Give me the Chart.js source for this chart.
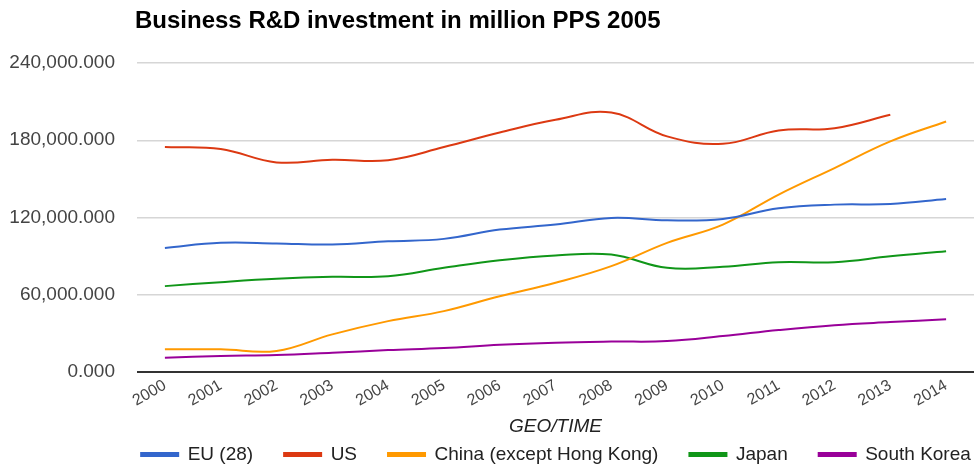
<!DOCTYPE html>
<html>
<head>
<meta charset="utf-8">
<script src="https://cdn.jsdelivr.net/npm/chart.js@4"></script>
<style>
  html, body { margin: 0; padding: 0; background: #fff; }
  #wrap { width: 974px; height: 467px; }
</style>
</head>
<body>
<div id="wrap"><canvas id="rdChart" width="974" height="467"></canvas></div>
<script>
// values (million PPS 2005)
const years = ['2000', '2001', '2002', '2003', '2004', '2005', '2006', '2007',
               '2008', '2009', '2010', '2011', '2012', '2013', '2014'];
const euValues = [96400, 100300, 99800, 99000, 101500, 103400, 110600, 114500,
                  119700, 117800, 118900, 127100, 130000, 130500, 134400];
const usValues = [174700, 173200, 162800, 164900, 164500, 174700, 186000, 195900,
                  201500, 183000, 177300, 187600, 189400, 199800, null];
const chinaValues = [17600, 17600, 16300, 29200, 39500, 47300, 58900, 69300,
                     82200, 100300, 114500, 137800, 158400, 179100, 194600];
const japanValues = [66700, 69800, 72400, 73900, 74400, 80900, 86800, 90500,
                     91200, 80900, 81700, 85300, 85300, 89900, 93800];
const koreaValues = [11100, 12400, 13200, 15000, 17000, 18600, 21200, 22800,
                     23600, 24000, 27900, 32600, 36400, 38800, 40900];
const yTicks = [0, 60000, 120000, 180000, 240000];

const seriesNames = ['EU (28)', 'US', 'China (except Hong Kong)', 'Japan', 'South Korea'];
const seriesColors = ['#3366cc', '#dc3912', '#ff9900', '#109618', '#990099'];
const seriesValues = [euValues, usValues, chinaValues, japanValues, koreaValues];

const FONT = "'Liberation Sans', Arial, sans-serif";

// title drawn at the left edge of the plot like the original
const titlePlugin = {
    id: 'leftTitle',
    afterDraw(chart) {
        const ctx = chart.ctx;
        ctx.save();
        ctx.font = 'bold 24px ' + FONT;
        ctx.fillStyle = '#000';
        ctx.textBaseline = 'middle';
        ctx.textAlign = 'left';
        ctx.fillText('Business R&D investment in million PPS 2005', 135, 21);
        ctx.restore();
    }
};

// move legend so it sits centred under the plot area
const legendShift = {
    id: 'legendShift',
    beforeDraw(chart) {
        const lg = chart.legend;
        if (!lg || lg._shifted) return;
        const dx = 67;
        lg.left += dx;
        lg.right += dx;
        lg._shifted = true;
    }
};

const datasets = seriesNames.map(function (name, i) {
    return {
        label: name,
        data: seriesValues[i],
        borderColor: seriesColors[i],
        backgroundColor: seriesColors[i],
        borderWidth: 2,
        pointRadius: 0,
        pointHoverRadius: 0,
        tension: 0.4,
        fill: false,
        spanGaps: false
    };
});

const ctx = document.getElementById('rdChart').getContext('2d');
const rdChart = new Chart(ctx, {
    type: 'line',
    data: { labels: years, datasets: datasets },
    options: {
        responsive: false,
        animation: false,
        layout: {
            padding: { top: 63, right: -4, bottom: -7, left: 0 }
        },
        plugins: {
            title: { display: false },
            tooltip: { enabled: false },
            legend: {
                position: 'bottom',
                labels: {
                    boxWidth: 37,
                    boxHeight: 3,
                    padding: 31,
                    color: '#222',
                    font: { family: FONT, size: 19 }
                }
            }
        },
        scales: {
            x: {
                offset: true,
                grid: { display: false },
                border: { display: false },
                ticks: {
                    autoSkip: false,
                    minRotation: 30,
                    maxRotation: 30,
                    padding: -4,
                    color: '#444',
                    font: { family: FONT, size: 16 }
                },
                title: {
                    display: true,
                    text: 'GEO/TIME',
                    color: '#222',
                    font: { family: FONT, size: 19, style: 'italic' },
                    padding: { top: 0, bottom: -24 }
                },
                afterFit: function (scale) {
                    scale.height = 42;
                }
            },
            y: {
                min: 0,
                max: 240000,
                afterBuildTicks: function (scale) {
                    scale.ticks = yTicks.map(function (v) { return { value: v }; });
                },
                border: { display: false },
                grid: {
                    drawTicks: false,
                    lineWidth: function (c) { return c.tick && c.tick.value === 0 ? 2 : 1.5; },
                    color: function (c) { return c.tick && c.tick.value === 0 ? '#333' : '#d6d6d6'; }
                },
                ticks: {
                    padding: 22,
                    color: '#444',
                    font: { family: FONT, size: 19 },
                    callback: function (value) {
                        return Number(value).toLocaleString('en-US', {
                            minimumFractionDigits: 3, maximumFractionDigits: 3
                        });
                    }
                },
                afterFit: function (scale) {
                    scale.width = 137;
                }
            }
        }
    },
    plugins: [titlePlugin, legendShift]
});
</script>
</body>
</html>
